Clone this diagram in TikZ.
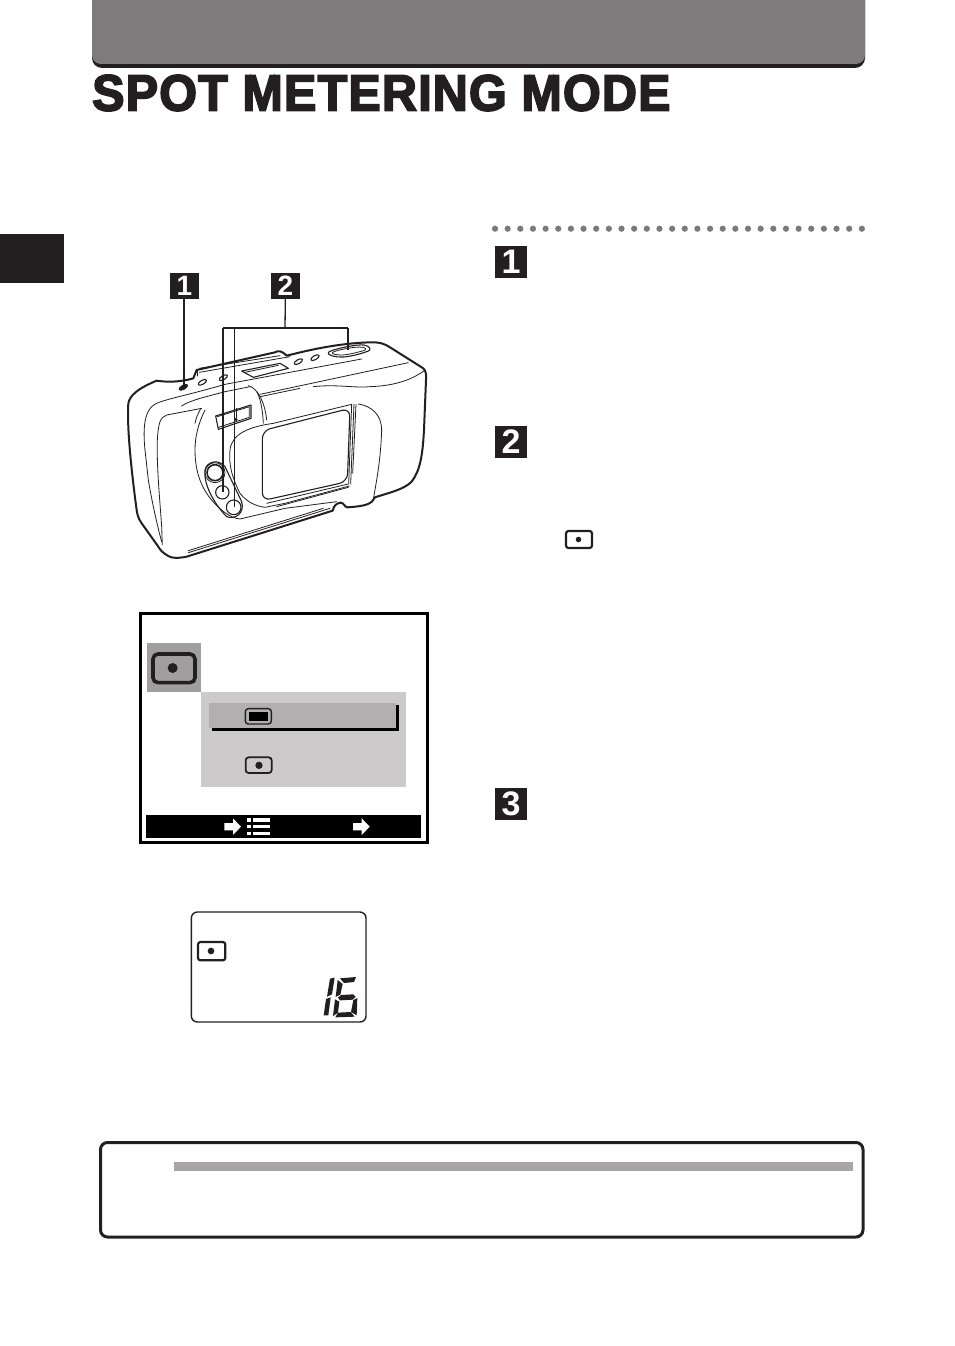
\documentclass[tikz,border=0pt]{standalone}
\usepackage{fontspec}
\setmainfont{Liberation Sans}
\newfontfamily\titlefont[FakeBold=3.6,LetterSpace=2.5]{Liberation Sans Bold}
\definecolor{ink}{HTML}{231F20}
\definecolor{hdr}{HTML}{7D7B7C}
\definecolor{dotc}{HTML}{7B797A}
\definecolor{bar}{HTML}{A7A5A6}
\definecolor{iconbg}{HTML}{A09E9F}
\definecolor{panel}{HTML}{CCCACB}
\definecolor{hilite}{HTML}{B1AFB0}
\tikzset{
  badge/.style={fill=ink,inner sep=0pt,text=white},
  bigbadge/.style={badge,minimum width=32pt,minimum height=32pt,font=\bfseries\fontsize{34}{34}\selectfont},
  smallbadge/.style={badge,minimum width=29pt,minimum height=26pt,font=\bfseries\fontsize{28}{28}\selectfont},
  cam/.style={draw=ink,line width=0.8pt,line join=round,line cap=round},
  camm/.style={draw=ink,line width=1.1pt,line join=round,line cap=round},
  camo/.style={draw=ink,line width=2pt,line join=round,line cap=round},
  leader/.style={draw=ink,line width=1.3pt},
  seg/.style={fill=ink,draw=none},
  z3/.style={x=0.33333pt,y=-0.33333pt},
}
\begin{document}
\begin{tikzpicture}[x=1pt,y=-1pt]
\useasboundingbox (0,0) rectangle (954,1346);
\fill[white] (0,0) rectangle (954,1346);
% header
\fill[ink] (92,0) -- (865,0) -- (865,58) arc[start angle=0,end angle=90,radius=10] -- (102,68) arc[start angle=90,end angle=180,radius=10] -- cycle;
\fill[hdr] (92,0) -- (865,0) -- (865,55) arc[start angle=0,end angle=90,radius=9] -- (101,64) arc[start angle=90,end angle=180,radius=9] -- cycle;
\node[name=title,anchor=west,inner sep=0pt,text=ink] at (92,93) {\resizebox{578pt}{35.5pt}{\titlefont SPOT METERING MODE}};
% tab
\fill[ink] (0,234) rectangle (64,283);
% dots
\foreach \i in {0,...,29} \fill[dotc] ({495+\i*12.65},228.7) circle[radius=3.1];
% step badges
\node[bigbadge] (s1) at (511,262) {1};
\node[bigbadge] (s2) at (511,442) {2};
\node[bigbadge] (s3) at (511,804) {3};
% inline icon
\draw[ink,line width=2.2pt,rounded corners=2.5pt] (566,531) rectangle (592,548);
\fill[ink] (578.5,539.5) circle[radius=2.8];
% camera
\begin{scope}[xshift=110pt,yshift=-260pt,z3]
\filldraw[fill=white,camo] (55,430) .. controls (60,405) and (85,385) .. (140,362) .. controls (165,366) and (205,368) .. (250,355) -- (260,330) -- (495,277) .. controls (505,272) and (512,270) .. (530,287) .. controls (590,272) and (680,250) .. (780,247) .. controls (810,246) and (825,252) .. (840,262) -- (940,325) .. controls (948,332) and (949,345) .. (948,360) -- (942,510) .. controls (938,580) and (932,630) .. (905,665) .. controls (880,690) and (830,700) .. (795,712) .. controls (785,732) and (770,738) .. (712,742) .. controls (704,742) and (702,728) .. (692,728) .. controls (680,730) and (672,735) .. (668,752) -- (230,890) .. controls (205,895) and (185,895) .. (175,888) .. controls (160,880) and (150,870) .. (145,860) -- (95,790) .. controls (85,775) and (82,765) .. (80,750) .. controls (65,640) and (50,500) .. (55,430) -- cycle;
% body ridges
\draw[cam] (215,438) .. controls (235,425) and (250,422) .. (270,415) -- (345,395) -- (420,380);
\draw[cam] (105,570) .. controls (98,500) and (105,460) .. (125,440) .. controls (145,420) and (200,415) .. (345,373) -- (755,297);
\draw[cam] (450,403) -- (895,308);
\draw[cam] (450,410) -- (570,385);
\draw[cam] (268,325) -- (510,287);
\draw[cam] (268,337) -- (540,290);
\draw[cam] (262,330) -- (262,348);
\draw[cam] (610,380) .. controls (680,372) and (740,385) .. (780,380) .. controls (840,378) and (900,365) .. (945,330);
\draw[cam] (415,377) .. controls (445,385) and (465,430) .. (470,480);
\draw[cam] (440,395) .. controls (452,415) and (458,450) .. (460,490);
% top display
\draw[camm] (395,333) -- (510,310) -- (535,325) -- (430,352) -- cycle;
\draw[cam] (405,337) -- (505,316);
% small buttons
\foreach \p in {(277,367),(340,353),(565,305),(615,293)}
  \draw[camm] \p ellipse[x radius=14,y radius=6,rotate=30];
\filldraw[fill=ink,camm] (220,382) ellipse[x radius=14,y radius=6,rotate=30];
% shutter
\draw[camm] (655,277) .. controls (665,268) and (740,252) .. (762,255) .. controls (780,258) and (785,270) .. (775,273) .. controls (750,283) and (710,292) .. (695,291) .. controls (675,292) and (650,285) .. (655,277) -- cycle;
\draw[cam] (668,277) .. controls (680,270) and (740,258) .. (758,262) .. controls (770,264) and (770,270) .. (760,272) .. controls (740,278) and (710,285) .. (695,285) .. controls (680,285) and (662,282) .. (668,277) -- cycle;
% viewfinder
\draw[camm] (317,468) -- (423,435) -- (423,475) -- (325,508) -- cycle;
\draw[cam] (322,470) -- (418,440) -- (418,472) -- (325,502);
\draw[cam] (380,445) -- (380,483);
\fill[ink] (378,478) circle[radius=5];
% lens cover and window
\draw[cam] (725,433) -- (490,490) .. controls (420,500) and (365,520) .. (360,570) .. controls (355,620) and (370,660) .. (390,700) .. controls (410,725) and (435,738) .. (465,742) -- (525,730) -- (718,678);
\draw[camm,rounded corners=8pt] (457,512) -- (720,445) -- (712,665) -- (457,722) -- cycle;
\draw[cam] (725,433) -- (716,672);
\draw[cam] (732,433) -- (722,672);
\draw[cam] (738,433) -- (728,640);
\draw[cam] (470,730) -- (715,672);
\draw[cam] (500,740) -- (715,682);
% right side
\draw[cam] (745,432) .. controls (785,438) and (815,465) .. (815,510) .. controls (812,600) and (800,660) .. (790,718);
% front arc
\draw[cam] (285,450) .. controls (265,490) and (255,530) .. (255,570) .. controls (255,610) and (262,670) .. (305,720) .. controls (325,745) and (360,775) .. (390,777) -- (525,745) -- (680,725);
\draw[cam] (272,446) .. controls (262,465) and (258,475) .. (255,490);
% left grip
\draw[cam] (275,445) -- (170,465) .. controls (150,472) and (145,490) .. (142,540) .. controls (140,620) and (148,700) .. (155,800) -- (157,855);
\draw[cam] (105,570) -- (115,660) .. controls (125,720) and (140,790) .. (155,845);
% bottom double lines
\draw[cam] (235,878) -- (660,745);
\draw[cam] (235,872) -- (640,745);
% buttons
\draw[camm] (285,630) .. controls (290,605) and (325,595) .. (345,620) -- (395,725) .. controls (405,760) and (375,780) .. (350,770) .. controls (320,740) and (280,680) .. (285,630) -- cycle;
\draw[cam] (315,638) circle[radius=30];
\draw[camm,line width=1.6pt] (315,638) circle[radius=24];
\draw[camm] (337,697) circle[radius=20];
\draw[camm] (371,742) circle[radius=22];
\end{scope}
% callout badges and leaders
\node[smallbadge] (c1) at (184.5,285.5) {1};
\node[smallbadge] (c2) at (285.5,285.5) {2};
\coordinate (b0) at (184,386);
\draw[leader] (c1.south -| b0) -- (b0);
\coordinate (j) at (285,328);
\coordinate (jl) at (223,328);
\coordinate (jm) at (234,328);
\coordinate (jr) at (348,328);
\coordinate (bl) at (223,492);
\coordinate (bm) at (234,507);
\coordinate (br) at (348,350);
\draw[leader] (c2) -- (j);
\draw[leader,line width=1.6pt] (jl) -- (jr);
\draw[leader,line width=1.6pt] (jl) -- (bl);
\draw[leader,line width=0.9pt] (jm) -- (bm);
\draw[leader] (jr) -- (br);
% menu screen
\begin{scope}[xshift=130pt,yshift=-605pt,z3]
\draw[black,line width=3pt] (31,26) rectangle (891,713);
\fill[iconbg] (50,113) rectangle (213,260);
\draw[ink,line width=3.6pt,rounded corners=5pt] (69,147) rectangle (195,233);
\fill[ink] (128,189) circle[radius=15];
\fill[panel] (213,262) rectangle (828,545);
\fill[hilite] (237,293) rectangle (798,370);
\fill[black] (246,369) rectangle (807,378);
\fill[black] (798,300) rectangle (807,378);
\draw[ink,line width=1.4pt,rounded corners=3pt] (346,311) rectangle (424,357);
\fill[black] (358,322) rectangle (413,347);
\draw[ink,line width=1.8pt,rounded corners=3pt] (347,457) rectangle (425,504);
\fill[ink] (387,481) circle[radius=11];
\fill[black] (48,630) rectangle (873,698);
\fill[white] (283,654) -- (309,654) -- (309,640) -- (333,665) -- (309,690) -- (309,676) -- (283,676) -- cycle;
\fill[white] (669,654) -- (695,654) -- (695,640) -- (719,665) -- (695,690) -- (695,676) -- (669,676) -- cycle;
\foreach \y in {640,660,680} {
  \fill[white] (351,\y) rectangle (362,{\y+10});
  \fill[white] (369,\y) rectangle (420,{\y+10});
}
\end{scope}
% LCD panel
\begin{scope}[xshift=180pt,yshift=-900pt,z3]
\draw[ink,line width=1.4pt,rounded corners=6pt] (34,36) rectangle (558,366);
\draw[ink,line width=2.2pt,rounded corners=2.5pt] (54,126) rectangle (136,181);
\fill[ink] (93,153) circle[radius=10];
% 1
\fill[seg] (450,236) -- (464,233) -- (456,283) -- (441,290) -- cycle;
\fill[seg] (438,297) -- (452,292) -- (445,346) -- (431,346) -- cycle;
% 6
\fill[seg] (480,235) -- (528,231) -- (522,246) -- (492,249) -- cycle;
\fill[seg] (473,240) -- (488,252) -- (481,284) -- (467,291) -- cycle;
\fill[seg] (483,285) -- (520,283) -- (527,290) -- (518,299) -- (480,301) -- (474,293) -- cycle;
\fill[seg] (465,298) -- (478,305) -- (474,338) -- (459,348) -- cycle;
\fill[seg] (474,338) -- (512,336) -- (524,350) -- (466,352) -- cycle;
\fill[seg] (520,300) -- (532,294) -- (530,346) -- (513,336) -- cycle;
\end{scope}
% note box
\draw[ink,line width=3pt,rounded corners=7pt] (100.5,1142.5) rectangle (863,1237);
\fill[bar] (174,1162) rectangle (853,1171);
\end{tikzpicture}
\end{document}
